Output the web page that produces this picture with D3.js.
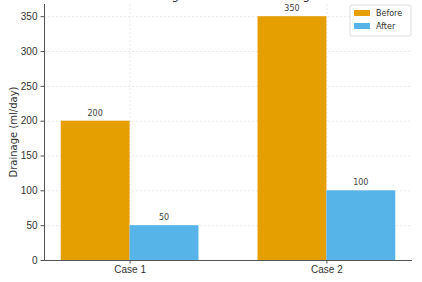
<!DOCTYPE html>
<html>
<head>
<meta charset="utf-8">
<script src="https://cdn.jsdelivr.net/npm/d3@7"></script>
<style>
  body, html { margin:0; padding:0; background:#fff; }
  svg { font-family: "DejaVu Sans", sans-serif; display:block; }
  .grid line { stroke:#e3e3e3; stroke-dasharray:2,2; stroke-width:0.8; }
  .grid path { display:none; }
  .axis path, .axis line { stroke:#555; }
  .axis text { fill:#333; font-size:10px; }
</style>
</head>
<body>
<svg id="chart" width="422" height="282"></svg>
<script>
var cases = ["Case 1", "Case 2"];
var before = [200, 350];
var after = [50, 100];
var yTicks = [0, 50, 100, 150, 200, 250, 300, 350];
var seriesNames = ["Before", "After"];
var colors = ["#E69F00", "#56B4E9"];

var margin = {left:44, right:10, top:4, bottom:22};
var W = 422, H = 282;
var svg = d3.select("#chart");

var x = d3.scaleLinear().domain([-0.435, 1.435]).range([margin.left, W - margin.right]);
var y = d3.scaleLinear().domain([0, 367.5]).range([H - margin.bottom, margin.top]);
var bw = 0.35;

// grid
svg.append("g").attr("class", "grid")
   .attr("transform", "translate(" + margin.left + ",0)")
   .call(d3.axisLeft(y).tickValues(yTicks).tickSize(-(W - margin.right - margin.left)).tickFormat(""));
svg.append("g").attr("class", "grid")
   .attr("transform", "translate(0," + margin.top + ")")
   .call(d3.axisBottom(x).tickValues([0, 1]).tickSize(H - margin.bottom - margin.top).tickFormat(""));

// title (clipped at top in the reference)
svg.append("text").attr("x", 236).attr("y", -1).attr("text-anchor", "middle")
   .style("font-size", "12px").style("fill", "#333")
   .text("Drainage Before and After Ligation");

var series = [before, after];
series.forEach(function(vals, s){
  var off = s === 0 ? -bw : 0;
  svg.append("g").selectAll("rect").data(vals).enter().append("rect")
     .attr("x", function(d, i){ return x(i + off); })
     .attr("width", x(bw) - x(0))
     .attr("y", function(d){ return y(d); })
     .attr("height", function(d){ return y(0) - y(d); })
     .attr("fill", colors[s]);
  svg.append("g").selectAll("text").data(vals).enter().append("text")
     .attr("x", function(d, i){ return x(i + off + bw / 2); })
     .attr("y", function(d){ return y(d) - 5; })
     .attr("text-anchor", "middle")
     .style("font-size", "8px").style("fill", "#444")
     .text(function(d){ return d; });
});

// axes
var ya = svg.append("g").attr("class", "axis")
   .attr("transform", "translate(" + margin.left + ",0)")
   .call(d3.axisLeft(y).tickValues(yTicks).tickSize(3.5).tickPadding(3));
var xa = svg.append("g").attr("class", "axis")
   .attr("transform", "translate(0," + (H - margin.bottom) + ")")
   .call(d3.axisBottom(x).tickValues([0, 1]).tickSize(3.5).tickPadding(2)
     .tickFormat(function(d){ return cases[d]; }));
ya.select(".domain").attr("d", "M0.5," + margin.top + "V" + (H - margin.bottom));
xa.select(".domain").attr("d", "M" + margin.left + ",0.5H" + (W - margin.right));

svg.append("text")
   .attr("transform", "translate(17," + ((margin.top + H - margin.bottom) / 2) + ") rotate(-90)")
   .attr("text-anchor", "middle").style("font-size", "10px").style("fill", "#333")
   .text("Drainage (ml/day)");

// legend
var lg = svg.append("g").attr("transform", "translate(350,5)");
lg.append("rect").attr("width", 61).attr("height", 31).attr("rx", 2)
  .attr("fill", "#fff").attr("fill-opacity", 0.8).attr("stroke", "#ddd");
seriesNames.forEach(function(n, i){
  lg.append("rect").attr("x", 4).attr("y", 5 + i * 13).attr("width", 16).attr("height", 6).attr("fill", colors[i]);
  lg.append("text").attr("x", 26).attr("y", 11 + i * 13).style("font-size", "8px").style("fill", "#333").text(n);
});
</script>
</body>
</html>
